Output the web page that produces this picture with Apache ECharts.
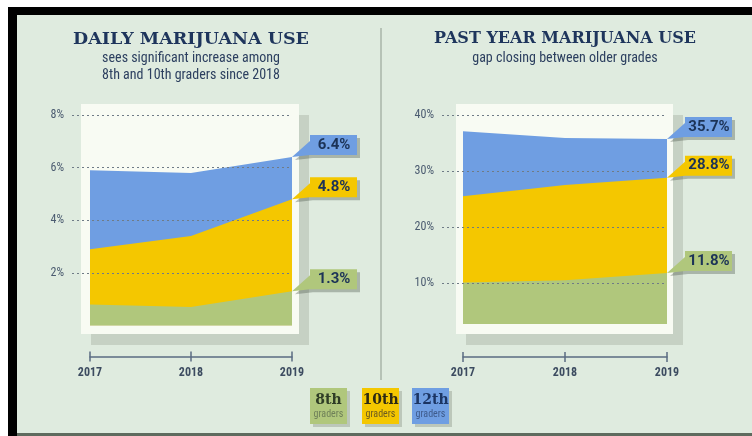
<!DOCTYPE html>
<html><head><meta charset="utf-8">
<script src="https://cdn.jsdelivr.net/npm/echarts@6/dist/echarts.min.js"></script>
<style>html,body{margin:0;padding:0;background:#fff}#c{width:752px;height:436px}</style>
</head><body><div id="c"></div>
<script>
const categories = ['2017', '2018', '2019'];
const gradeNames = ['8th', '10th', '12th'];
const daily8 = [0.8, 0.7, 1.3];
const daily10 = [2.9, 3.4, 4.8];
const daily12 = [5.9, 5.8, 6.4];
const year8 = [10.1, 10.5, 11.8];
const year10 = [25.5, 27.5, 28.8];
const year12 = [37.1, 35.9, 35.7];
const dailyTicks = { min: 0, max: 8, step: 2 };
const yearTicks = { min: 0, max: 40, step: 10 };
const yearBase = 2.7;

const colors = ['#b0c77c', '#f4c700', '#6f9ee2'];
const calloutPath = 'path://M0,22 L18,6 L18,0 L65,0 L65,20 L18,20 Z';
const condensed = "'Roboto Condensed','DejaVu Sans Condensed','Liberation Sans Narrow',Roboto,sans-serif";

function overlayY(t, gi) {
  const c = '#6f7b86';
  return {
    gridIndex: gi, type: 'value', min: t.min, max: t.max, interval: t.step, z: 4,
    axisLine: { show: false }, axisTick: { show: false },
    axisLabel: { formatter: v => v === 0 ? '' : v + '%', color: '#4b5b70', fontSize: 12, margin: 8, fontFamily: condensed },
    splitLine: { show: true, lineStyle: { type: [2, 3], width: 1, color: ['rgba(0,0,0,0)', c, c, c, c] } }
  };
}
function dataY(t, gi) {
  return { gridIndex: gi, type: 'value', min: t.min, max: t.max, interval: t.step, show: false };
}
function dataX(gi, off, withLabels) {
  return {
    gridIndex: gi, type: 'category', data: categories, boundaryGap: false, position: 'bottom', offset: off,
    axisLine: { show: withLabels, onZero: false, lineStyle: { color: '#5b6c82', width: 1.5 } },
    axisTick: { show: true, inside: !withLabels, length: 5, lineStyle: { color: '#5b6c82', width: 1.5 } },
    axisLabel: { show: withLabels, color: '#3c4b60', fontSize: 12, fontWeight: 'bold', margin: 10, fontFamily: condensed },
    splitLine: { show: false }
  };
}
function areaSeries(name, vals, color, xi, yi, origin) {
  const last = vals[vals.length - 1];
  return {
    name, type: 'line', xAxisIndex: xi, yAxisIndex: yi, data: vals, symbol: 'none',
    lineStyle: { width: 0 }, areaStyle: { color, opacity: 1, origin: origin },
    silent: true,
    markPoint: {
      symbol: calloutPath, symbolSize: [65, 22], symbolOffset: [32.5, -11], symbolKeepAspect: false,
      itemStyle: { color, shadowColor: 'rgba(70,80,70,0.35)', shadowOffsetX: 3, shadowOffsetY: 3, shadowBlur: 0 },
      label: { show: true, position: 'inside', offset: [9.5, -1], formatter: () => last.toFixed(1) + '%',
        color: '#1c3357', fontSize: 15, fontWeight: 'bold', fontFamily: 'Roboto,sans-serif' },
      data: [{ coord: [categories[categories.length - 1], last], value: last }]
    }
  };
}

const graphics = [
  { type: 'rect', shape: { x: 0, y: 0, width: 752, height: 7 }, style: { fill: '#fff' } },
  { type: 'rect', shape: { x: 0, y: 0, width: 8, height: 436 }, style: { fill: '#fff' } },
  { type: 'rect', shape: { x: 8, y: 7, width: 744, height: 8 }, style: { fill: '#000' } },
  { type: 'rect', shape: { x: 8, y: 7, width: 9, height: 429 }, style: { fill: '#000' } },
  { type: 'rect', shape: { x: 17, y: 433, width: 735, height: 3 }, style: { fill: '#5e6a5e' } },
  { type: 'line', shape: { x1: 381, y1: 28, x2: 381, y2: 380 }, style: { stroke: '#a9b5a9', lineWidth: 1.5 } },
  { type: 'rect', shape: { x: 91, y: 115, width: 218, height: 230 }, style: { fill: '#c6d1c4' } },
  { type: 'rect', shape: { x: 81, y: 104, width: 218, height: 230 }, style: { fill: '#f8fbf3' } },
  { type: 'rect', shape: { x: 466, y: 115, width: 217, height: 230 }, style: { fill: '#c6d1c4' } },
  { type: 'rect', shape: { x: 456, y: 104, width: 217, height: 230 }, style: { fill: '#f8fbf3' } },
  { type: 'text', x: 191, y: 39, style: { text: 'DAILY MARIJUANA USE', fill: '#1e355c', font: "bold 17.5px 'DejaVu Serif',serif", align: 'center', verticalAlign: 'middle' } },
  { type: 'text', x: 191, y: 58, style: { text: 'sees significant increase among', fill: '#2d4060', font: "14px " + condensed, align: 'center', verticalAlign: 'middle' } },
  { type: 'text', x: 191, y: 75, style: { text: '8th and 10th graders since 2018', fill: '#2d4060', font: "14px " + condensed, align: 'center', verticalAlign: 'middle' } },
  { type: 'text', x: 565, y: 39, style: { text: 'PAST YEAR MARIJUANA USE', fill: '#1e355c', font: "bold 16px 'DejaVu Serif',serif", align: 'center', verticalAlign: 'middle' } },
  { type: 'text', x: 565, y: 58, style: { text: 'gap closing between older grades', fill: '#2d4060', font: "14px " + condensed, align: 'center', verticalAlign: 'middle' } }
];
const legendText = ['#2f3d26', '#2d2a14', '#1c3563'];
const legendSub = ['#6e7f58', '#6b5a20', '#3e5a8a'];
const legendX = [310, 362, 412];
gradeNames.forEach((g, i) => {
  const x = legendX[i], y = 388;
  graphics.push({ type: 'rect', shape: { x: x + 3, y: y + 3, width: 37, height: 36 }, style: { fill: '#bcc7ba' } });
  graphics.push({ type: 'rect', shape: { x, y, width: 37, height: 36 }, style: { fill: colors[i] } });
  graphics.push({ type: 'text', x: x + 18.5, y: y + 12, style: { text: g, fill: legendText[i], font: "bold 14px 'DejaVu Serif',serif", align: 'center', verticalAlign: 'middle' } });
  graphics.push({ type: 'text', x: x + 18.5, y: y + 26, style: { text: 'graders', fill: legendSub[i], font: "10px " + condensed, align: 'center', verticalAlign: 'middle' } });
});

const chart = echarts.init(document.getElementById('c'), null, { renderer: 'canvas' });
chart.setOption({
  backgroundColor: '#dfebdf',
  animation: false,
  graphic: graphics,
  grid: [
    { left: 72, top: 115, width: 220, height: 210.5 },
    { left: 90, top: 115, width: 202, height: 210.5 },
    { left: 442, top: 115, width: 225, height: 224 },
    { left: 463, top: 115, width: 204, height: 224 }
  ],
  xAxis: [
    { gridIndex: 0, type: 'value', min: 0, max: 1, show: false },
    dataX(1, 31, true),
    dataX(1, 31, false),
    { gridIndex: 2, type: 'value', min: 0, max: 1, show: false },
    dataX(3, 18, true),
    dataX(3, 18, false)
  ],
  yAxis: [
    overlayY(dailyTicks, 0),
    dataY(dailyTicks, 1),
    overlayY(yearTicks, 2),
    dataY(yearTicks, 3)
  ],
  series: [
    areaSeries('12th', daily12, colors[2], 1, 1, 'start'),
    areaSeries('10th', daily10, colors[1], 1, 1, 'start'),
    areaSeries('8th', daily8, colors[0], 1, 1, 'start'),
    areaSeries('12th', year12, colors[2], 4, 3, yearBase),
    areaSeries('10th', year10, colors[1], 4, 3, yearBase),
    areaSeries('8th', year8, colors[0], 4, 3, yearBase)
  ]
});
</script></body></html>
